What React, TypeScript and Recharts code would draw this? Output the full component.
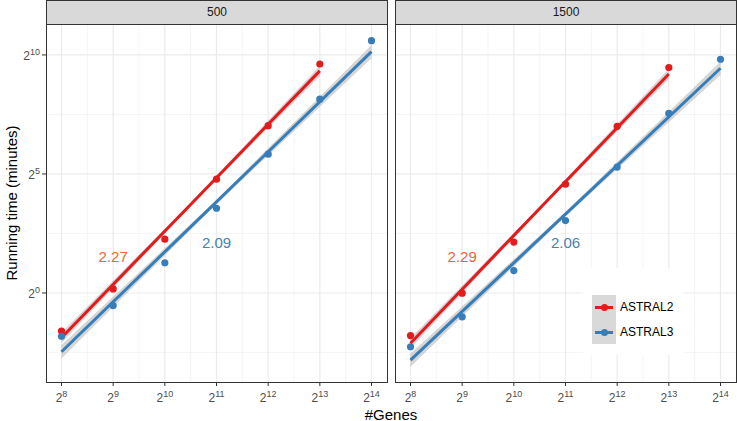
import React from 'react';
import { ComposedChart, Line, Area, Scatter, XAxis, YAxis, CartesianGrid } from 'recharts';

// log2(#genes)
const genes = [8, 9, 10, 11, 12, 13, 14];
const xMinor = [8.5, 9.5, 10.5, 11.5, 12.5, 13.5];
const yTicks = [0, 5, 10];
const yMinor = [-2.5, 2.5, 7.5];

// log2(running time in minutes)
const astral2_500 = [-1.6, 0.17, 2.26, 4.78, 7.03, 9.62];
const astral3_500 = [-1.82, -0.53, 1.27, 3.56, 5.83, 8.14, 10.6];
const astral2_1500 = [-1.79, -0.01, 2.14, 4.57, 7.0, 9.47];
const astral3_1500 = [-2.26, -1.0, 0.94, 3.04, 5.29, 7.55, 9.82];

// fitted lines (start, middle, end) and confidence band half widths
const fitX2 = [8, 10.5, 13];
const fitX3 = [8, 11, 14];
const fit2_500 = [-1.88, 3.72, 9.33];
const fit3_500 = [-2.47, 3.83, 10.14];
const fit2_1500 = [-2.11, 3.55, 9.2];
const fit3_1500 = [-2.82, 3.31, 9.44];
const band2 = [0.22, 0.07, 0.22];
const band3 = [0.28, 0.09, 0.28];

// slope labels
const slopeX = [9, 11];
const slopeY = [1.53, 2.11];
const slopes500 = ['2.27', '2.09'];
const slopes1500 = ['2.29', '2.06'];

const RED = '#E41A1C';
const BLUE = '#377EB8';
const FONT = '"Liberation Sans", Arial, Helvetica, sans-serif';

const toPoints = (ys: number[]) => ys.map((y, i) => ({ x: genes[i], y }));
const toFit = (xs: number[], ys: number[], half: number[]) =>
  xs.map((x, i) => ({ x, y: ys[i], band: [ys[i] - half[i], ys[i] + half[i]] }));

function PowTick(props: any) {
  const { x, y, payload, vertical } = props;
  return (
    <text
      x={x}
      y={y}
      dy={vertical ? 5 : 14}
      textAnchor={vertical ? 'end' : 'middle'}
      fill="#4D4D4D"
      fontSize={12}
      fontFamily={FONT}
    >
      <tspan>2</tspan>
      <tspan dy={-5} fontSize={9}>{payload.value}</tspan>
    </text>
  );
}

const dot = (color: string) => (p: any) => <circle cx={p.cx} cy={p.cy} r={3.6} fill={color} />;
const label = (text: string, color: string) => (p: any) => (
  <text x={p.cx} y={p.cy} dy={5} textAnchor="middle" fill={color} fontSize={15} fontFamily={FONT}>
    {text}
  </text>
);

interface PanelProps {
  left: number;
  showY: boolean;
  title: string;
  a2: number[];
  a3: number[];
  f2: number[];
  f3: number[];
  slopes: string[];
}

function Panel({ left, showY, title, a2, a3, f2, f3, slopes }: PanelProps) {
  const yw = showY ? 46 : 0;
  const plotLeft = left + yw;
  return (
    <>
      <div
        style={{
          position: 'absolute', left: plotLeft, top: 0, width: 342, height: 25, boxSizing: 'border-box',
          background: '#D9D9D9', border: '1px solid #333', fontFamily: FONT, fontSize: 12,
          color: '#1A1A1A', textAlign: 'center', lineHeight: '23px',
        }}
      >
        {title}
      </div>
      <div style={{ position: 'absolute', left, top: 24 }}>
        <ComposedChart width={yw + 342} height={397} margin={{ top: 0, right: 1, bottom: 0, left: 0 }}>
          <CartesianGrid horizontalValues={yMinor} verticalValues={xMinor} stroke="#EFEFEF" strokeWidth={0.6} />
          <CartesianGrid horizontalValues={yTicks} verticalValues={genes} stroke="#EBEBEB" strokeWidth={1.2} />
          <XAxis
            type="number" dataKey="x" domain={[7.7, 14.3]} ticks={genes} allowDataOverflow
            height={39} tickSize={4} tickMargin={2} axisLine={false} tickLine={{ stroke: '#333' }}
            tick={<PowTick />} interval={0}
          />
          <YAxis
            type="number" dataKey="y" domain={[-3.74, 11.3]} ticks={yTicks} allowDataOverflow
            width={yw} hide={!showY} tickSize={4} tickMargin={2} axisLine={false}
            tickLine={{ stroke: '#333' }} tick={<PowTick vertical />} interval={0}
          />
          <Area data={toFit(fitX2, f2, band2)} dataKey="band" type="linear" stroke="none" fill="#999" fillOpacity={0.4} isAnimationActive={false} />
          <Area data={toFit(fitX3, f3, band3)} dataKey="band" type="linear" stroke="none" fill="#999" fillOpacity={0.4} isAnimationActive={false} />
          <Line data={toFit(fitX2, f2, band2)} dataKey="y" type="linear" stroke={RED} strokeWidth={3} dot={false} isAnimationActive={false} />
          <Line data={toFit(fitX3, f3, band3)} dataKey="y" type="linear" stroke={BLUE} strokeWidth={3} dot={false} isAnimationActive={false} />
          <Scatter data={toPoints(a2)} dataKey="y" shape={dot(RED)} isAnimationActive={false} />
          <Scatter data={toPoints(a3)} dataKey="y" shape={dot(BLUE)} isAnimationActive={false} />
          <Scatter data={[{ x: slopeX[0], y: slopeY[0] }]} dataKey="y" shape={label(slopes[0], '#F0643C')} isAnimationActive={false} />
          <Scatter data={[{ x: slopeX[1], y: slopeY[1] }]} dataKey="y" shape={label(slopes[1], '#4682B4')} isAnimationActive={false} />
        </ComposedChart>
      </div>
      <div
        style={{
          position: 'absolute', left: plotLeft, top: 24, width: 342, height: 359,
          boxSizing: 'border-box', border: '1px solid #333', pointerEvents: 'none',
        }}
      />
    </>
  );
}

function LegendKey({ color, text }: { color: string; text: string }) {
  return (
    <div style={{ display: 'flex', alignItems: 'center', height: 24.5 }}>
      <div style={{ width: 24, height: 24.5, background: '#D9D9D9', position: 'relative' }}>
        <div style={{ position: 'absolute', left: 3, right: 3, top: 11, height: 3, background: color }} />
        <div style={{ position: 'absolute', left: 8.5, top: 9, width: 7, height: 7, borderRadius: 4, background: color }} />
      </div>
      <span style={{ marginLeft: 4, fontSize: 12, fontFamily: FONT, color: '#000' }}>{text}</span>
    </div>
  );
}

export default function App() {
  return (
    <div style={{ position: 'absolute', left: 0, top: 0, width: 737, height: 421, background: '#fff', overflow: 'hidden' }}>
      <Panel left={0} showY title="500" a2={astral2_500} a3={astral3_500} f2={fit2_500} f3={fit3_500} slopes={slopes500} />
      <Panel left={395} showY={false} title="1500" a2={astral2_1500} a3={astral3_1500} f2={fit2_1500} f3={fit3_1500} slopes={slopes1500} />
      <div
        style={{
          position: 'absolute', left: 11, top: 203, transform: 'translate(-50%, -50%) rotate(-90deg)',
          whiteSpace: 'nowrap', fontFamily: FONT, fontSize: 15, color: '#000',
        }}
      >
        Running time (minutes)
      </div>
      <div
        style={{
          position: 'absolute', left: 391, top: 414, transform: 'translate(-50%, -50%)',
          whiteSpace: 'nowrap', fontFamily: FONT, fontSize: 15, color: '#000',
        }}
      >
        #Genes
      </div>
      <div style={{ position: 'absolute', left: 583, top: 268, width: 101, height: 87, background: '#fff' }}>
        <div style={{ position: 'absolute', left: 9, top: 27 }}>
          <LegendKey color={RED} text="ASTRAL2" />
          <LegendKey color={BLUE} text="ASTRAL3" />
        </div>
      </div>
    </div>
  );
}
